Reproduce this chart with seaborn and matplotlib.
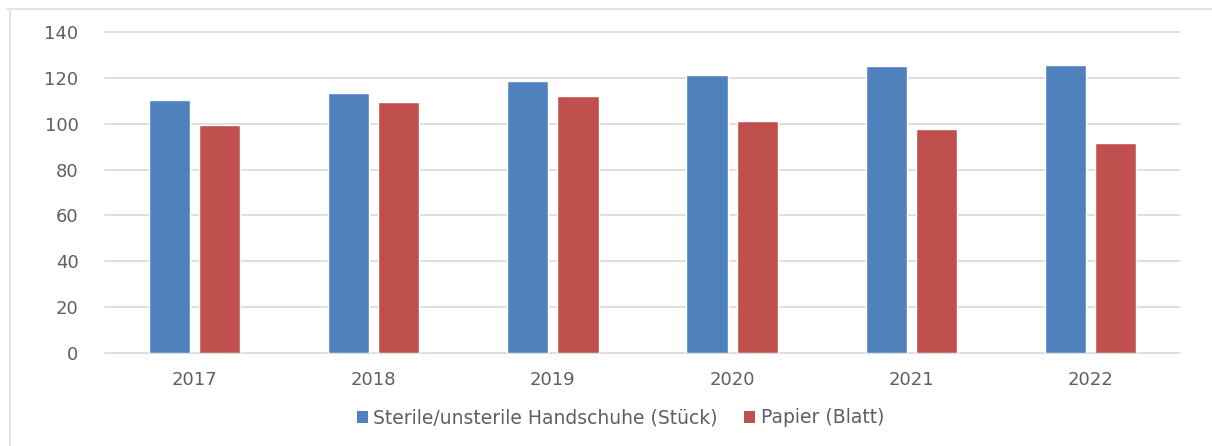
import matplotlib
matplotlib.use("Agg")
import matplotlib.pyplot as plt
from matplotlib.lines import Line2D
from matplotlib.patches import Patch
import pandas as pd
import seaborn as sns

years = ["2017", "2018", "2019", "2020", "2021", "2022"]
handschuhe = [110.4, 113.5, 118.5, 121.4, 125.2, 125.8]
papier = [99.3, 109.6, 112.2, 101.1, 97.6, 91.4]
series_names = ["Sterile/unsterile Handschuhe (Stück)", "Papier (Blatt)"]
colors = ["#4F81BD", "#C0504D"]
y_ticks = [0, 20, 40, 60, 80, 100, 120, 140]

df = pd.DataFrame({
    "Jahr": years * 2,
    "Wert": handschuhe + papier,
    "Serie": [series_names[0]] * len(years) + [series_names[1]] * len(years),
})

sns.set_theme(style="white")
plt.rcParams["font.family"] = ["DejaVu Sans"]
text_color = "#5F5F5F"

fig = plt.figure(figsize=(12.12, 4.46), dpi=100)
ax = fig.add_axes([0.0866, 0.2085, 0.8870, 0.7198])

sns.barplot(data=df, x="Jahr", y="Wert", hue="Serie", palette=colors,
            width=0.56, gap=0.18, saturation=1, legend=False, ax=ax)

ax.set_ylim(0, 140)
ax.set_xlim(-0.5, len(years) - 0.5)
ax.set_yticks(y_ticks)
ax.set_axisbelow(True)
ax.yaxis.grid(True, color="#D9D9D9", linewidth=1.2)
for gl in ax.get_ygridlines():
    gl.set_clip_on(False)
for s in ax.spines.values():
    s.set_visible(False)
ax.tick_params(axis="both", length=0, colors=text_color, labelsize=13)
ax.tick_params(axis="y", pad=19)
ax.tick_params(axis="x", pad=13)
ax.set_xlabel("")
ax.set_ylabel("")

handles = [Patch(facecolor=c, edgecolor="none") for c in colors]
fig.legend(handles, series_names, loc="center", bbox_to_anchor=(0.512, 0.063),
           ncol=2, frameon=False, fontsize=13.5, labelcolor=text_color,
           handlelength=0.6, handleheight=0.6, handletextpad=0.3,
           columnspacing=1.4)

# thin chart-area frame at top and left
fig.add_artist(Line2D([0.006, 1.0], [0.98, 0.98], transform=fig.transFigure,
                      color="#E3E3E3", linewidth=1.5))
fig.add_artist(Line2D([0.008, 0.008], [0.0, 0.98], transform=fig.transFigure,
                      color="#E3E3E3", linewidth=1.5))

fig.savefig("out.png", dpi=100, facecolor="white")
